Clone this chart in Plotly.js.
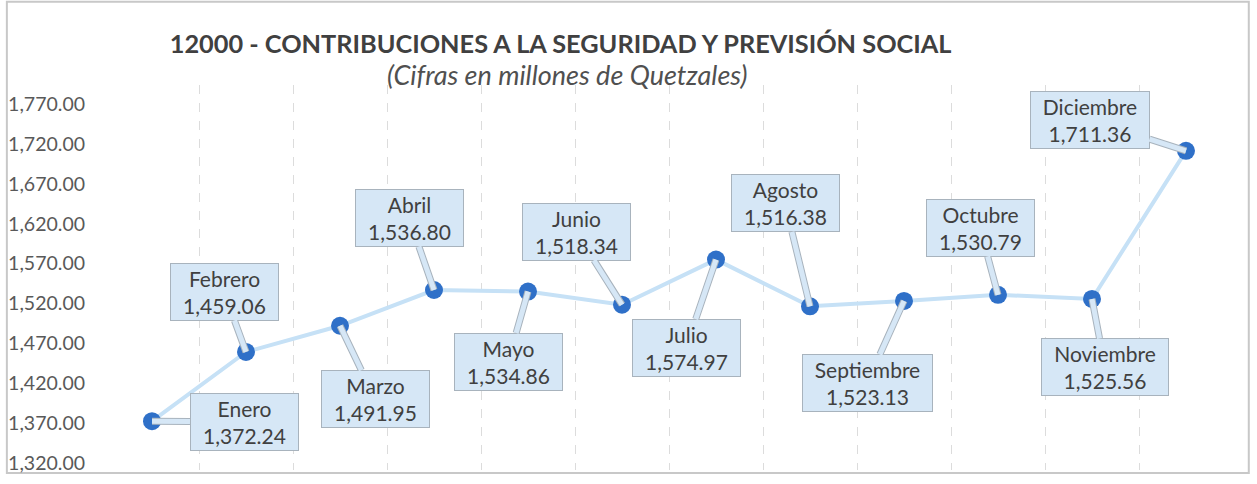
<!DOCTYPE html>
<html>
<head>
<meta charset="utf-8">
<script src="https://cdn.plot.ly/plotly-3.0.1.min.js"></script>
<style>html,body{margin:0;padding:0;background:#fff;}#chart{width:1257px;height:484px;}</style>
</head>
<body>
<div id="chart"></div>
<script>
// ---- data ----
const months = ["Enero","Febrero","Marzo","Abril","Mayo","Junio","Julio","Agosto","Septiembre","Octubre","Noviembre","Diciembre"];
const values = [1372.24, 1459.06, 1491.95, 1536.80, 1534.86, 1518.34, 1574.97, 1516.38, 1523.13, 1530.79, 1525.56, 1711.36];
const yTicks = [1320, 1370, 1420, 1470, 1520, 1570, 1620, 1670, 1720, 1770];
const titleText = "12000 - CONTRIBUCIONES A LA SEGURIDAD Y PREVISIÓN SOCIAL";
const subtitleText = "(Cifras en millones de Quetzales)";

// ---- callout offsets (pixels, layout only) ----
const offX = [92, -22, 35, -25, -20, -46, -30, -25, -37, -18, 13, -96];
const offY = [1, -60, 73, -72, 70, -73, 88, -103, 82, -67, 68, -31];

const FONT = "Lato, sans-serif";
const LABEL_SIZE = 21;
const fmt = v => v.toLocaleString("en-US", {minimumFractionDigits: 2, maximumFractionDigits: 2});

const ctx = document.createElement("canvas").getContext("2d");
ctx.font = LABEL_SIZE + "px Lato";
const textW = s => ctx.measureText(s).width;

const annotations = [];
months.forEach((m, i) => {
  const w = Math.round(Math.max(textW(m), textW(fmt(values[i]))) + 20);
  const base = {
    x: m, y: values[i], xref: "x", yref: "y",
    text: m + "<br>" + fmt(values[i]),
    showarrow: true, arrowhead: 0,
    ax: offX[i], ay: offY[i],
    font: {family: FONT, size: LABEL_SIZE, color: "#404040"},
    bgcolor: "#d6e7f6", bordercolor: "#a8b3bd", borderwidth: 1, borderpad: 2,
    width: w
  };
  annotations.push(Object.assign({}, base, {arrowcolor: "#a8b3bd", arrowwidth: 7}));
  annotations.push(Object.assign({}, base, {arrowcolor: "#d6e7f6", arrowwidth: 5}));
});
annotations.push({
  xref: "paper", yref: "paper", x: 0.41, y: 1.026, showarrow: false,
  text: "<i>" + subtitleText + "</i>",
  font: {family: FONT, size: 27, color: "#505050"}, xanchor: "center", yanchor: "middle"
});

const trace = {
  x: months, y: values, type: "scatter", mode: "lines+markers",
  line: {color: "#c6e1f6", width: 4},
  marker: {color: "#2f70c8", size: 18},
  hoverinfo: "skip"
};

const layout = {
  width: 1257, height: 484,
  margin: {l: 105, r: 24, t: 85, b: 14},
  paper_bgcolor: "#ffffff", plot_bgcolor: "#ffffff",
  showlegend: false,
  title: {
    text: "<b>" + titleText + "</b>",
    font: {family: FONT, size: 25.3, color: "#404040"},
    x: 0.446, xanchor: "center", y: 0.908, yanchor: "middle", yref: "container"
  },
  xaxis: {
    type: "category", range: [-0.5, 11.5], showticklabels: false,
    tickson: "boundaries", showgrid: true, gridcolor: "#dcdcdc", griddash: "dash", gridwidth: 1,
    zeroline: false, showline: false, ticks: ""
  },
  yaxis: {
    range: [1311, 1794], tickvals: yTicks, ticktext: yTicks.map(fmt),
    showgrid: false, zeroline: false, showline: false, ticks: "",
    tickfont: {family: FONT, size: 19.5, color: "#595959"},
    ticklabelstandoff: 19
  },
  annotations: annotations,
  shapes: [{
    type: "rect", xref: "paper", yref: "paper",
    x0: -0.087, x1: 1.014, y0: 1.216, y1: -0.008,
    line: {color: "#c8c8c8", width: 2}, fillcolor: "rgba(0,0,0,0)", layer: "below"
  }]
};

Plotly.newPlot("chart", [trace], layout, {displayModeBar: false, staticPlot: true});
</script>
</body>
</html>
